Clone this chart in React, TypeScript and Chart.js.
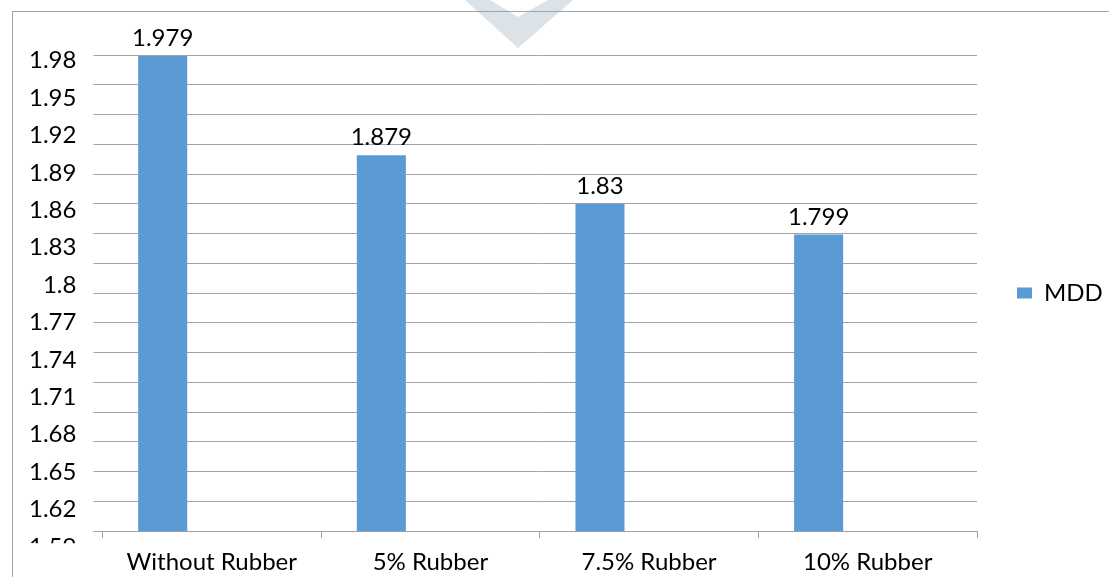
import React, { useEffect, useRef } from "react";
import { Chart, registerables } from "chart.js";

Chart.register(...registerables);

// Mix designs along the category axis
const categories = ["Without Rubber", "5% Rubber", "7.5% Rubber", "10% Rubber"];
// Maximum dry density per mix
const mddValues = [1.979, 1.879, 1.83, 1.799];
// Two further series slots of the clustered layout, left without values
const blankSeriesA: (number | null)[] = [null, null, null, null];
const blankSeriesB: (number | null)[] = [null, null, null, null];

// Value axis that carries the gridlines and the bars
const gridMin = 1.5;
const gridMax = 1.98;
const gridStep = 0.03;

// Printed tick labels of the value axis
const yLabelTicks = [1.59, 1.62, 1.65, 1.68, 1.71, 1.74, 1.77, 1.8, 1.83, 1.86, 1.89, 1.92, 1.95, 1.98];
const labelAxisMin = 1.6027;
const labelAxisMax = 1.9844;

const FONT = 'Lato, "Open Sans", "Liberation Sans", sans-serif';
const FONT_SIZE = 24;
const GRID = "#a3a3a3";
const BAR = "#5b9bd5";

const backdropPlugin = {
  id: "backdrop",
  beforeDraw(chart: any) {
    const { ctx, width, height } = chart;
    ctx.save();
    ctx.fillStyle = "#ffffff";
    ctx.fillRect(0, 0, width, height);
    // faint chevron emblem at the top of the page
    ctx.fillStyle = "#dce3e8";
    ctx.beginPath();
    ctx.moveTo(465, 0);
    ctx.lineTo(518, 48);
    ctx.lineTo(573, 0);
    ctx.lineTo(548, 0);
    ctx.lineTo(518, 17);
    ctx.lineTo(490, 0);
    ctx.closePath();
    ctx.fill();
    // outer frame of the chart object
    ctx.strokeStyle = GRID;
    ctx.lineWidth = 1;
    ctx.strokeRect(12.5, 11.5, width + 20, height + 20);
    ctx.restore();
  },
};

const labelClipPlugin = {
  id: "labelClip",
  afterLayout(chart: any) {
    const s = chart.scales.yLabel;
    if (!s) return;
    s._computeLabelArea = () => ({
      top: 0,
      left: s.left,
      right: s.right,
      bottom: chart.chartArea.bottom + 12,
    });
  },
};

const valueLabelPlugin = {
  id: "valueLabels",
  afterDatasetsDraw(chart: any) {
    const { ctx } = chart;
    const meta = chart.getDatasetMeta(0);
    const data = chart.data.datasets[0].data as number[];
    ctx.save();
    ctx.font = `${FONT_SIZE}px ${FONT}`;
    ctx.fillStyle = "#000000";
    ctx.textAlign = "center";
    ctx.textBaseline = "alphabetic";
    meta.data.forEach((bar: any, i: number) => {
      ctx.fillText(String(data[i]), bar.x, bar.y - 10);
    });
    ctx.restore();
  },
};

export default function App() {
  const canvasRef = useRef<HTMLCanvasElement | null>(null);

  useEffect(() => {
    if (!canvasRef.current) return;
    const chart = new Chart(canvasRef.current, {
      type: "bar",
      data: {
        labels: categories,
        datasets: [
          { label: "MDD", data: mddValues, backgroundColor: BAR, yAxisID: "y" },
          { label: "Series 2", data: blankSeriesA, backgroundColor: BAR, yAxisID: "y" },
          { label: "Series 3", data: blankSeriesB, backgroundColor: BAR, yAxisID: "y" },
        ],
      },
      options: {
        responsive: false,
        animation: false,
        datasets: {
          bar: { categoryPercentage: 0.673, barPercentage: 1 },
        },
        layout: { padding: { left: 12, top: 55, right: 0, bottom: -10 } },
        font: { family: FONT, size: FONT_SIZE },
        plugins: {
          legend: {
            position: "right",
            align: "center",
            fullSize: false,
            maxWidth: 132,
            labels: {
              filter: (item: any) => item.datasetIndex === 0,
              boxWidth: 15,
              boxHeight: 11,
              padding: 40,
              color: "#000000",
              font: { family: FONT, size: FONT_SIZE },
            },
          },
          tooltip: { enabled: false },
        },
        scales: {
          x: {
            type: "category",
            offset: true,
            grid: {
              offset: true,
              drawOnChartArea: false,
              drawTicks: true,
              tickLength: 7,
              color: GRID,
            },
            border: { display: true, color: GRID },
            ticks: {
              color: "#000000",
              padding: 10,
              maxRotation: 0,
              font: { family: FONT, size: FONT_SIZE },
            },
          },
          y: {
            type: "linear",
            position: "left",
            weight: 0,
            min: gridMin,
            max: gridMax,
            grid: { color: GRID, drawTicks: true, tickLength: 9 },
            border: { display: false },
            ticks: { display: false, stepSize: gridStep },
          },
          yLabel: {
            type: "linear",
            position: "left",
            weight: 1,
            min: labelAxisMin,
            max: labelAxisMax,
            grid: { display: false, drawTicks: false },
            border: { display: false },
            afterBuildTicks: (scale: any) => {
              scale.ticks = yLabelTicks.map((v) => ({ value: v }));
            },
            ticks: {
              color: "#000000",
              padding: 17,
              autoSkip: false,
              font: { family: FONT, size: FONT_SIZE },
              callback: (v: any) => String(v),
            },
          },
        },
      },
      plugins: [backdropPlugin, labelClipPlugin, valueLabelPlugin],
    });
    return () => chart.destroy();
  }, []);

  return (
    <div style={{ position: "fixed", left: 0, top: 0, width: 1109, height: 577, background: "#fff" }}>
      <canvas ref={canvasRef} width={1109} height={577} style={{ display: "block" }} />
    </div>
  );
}
